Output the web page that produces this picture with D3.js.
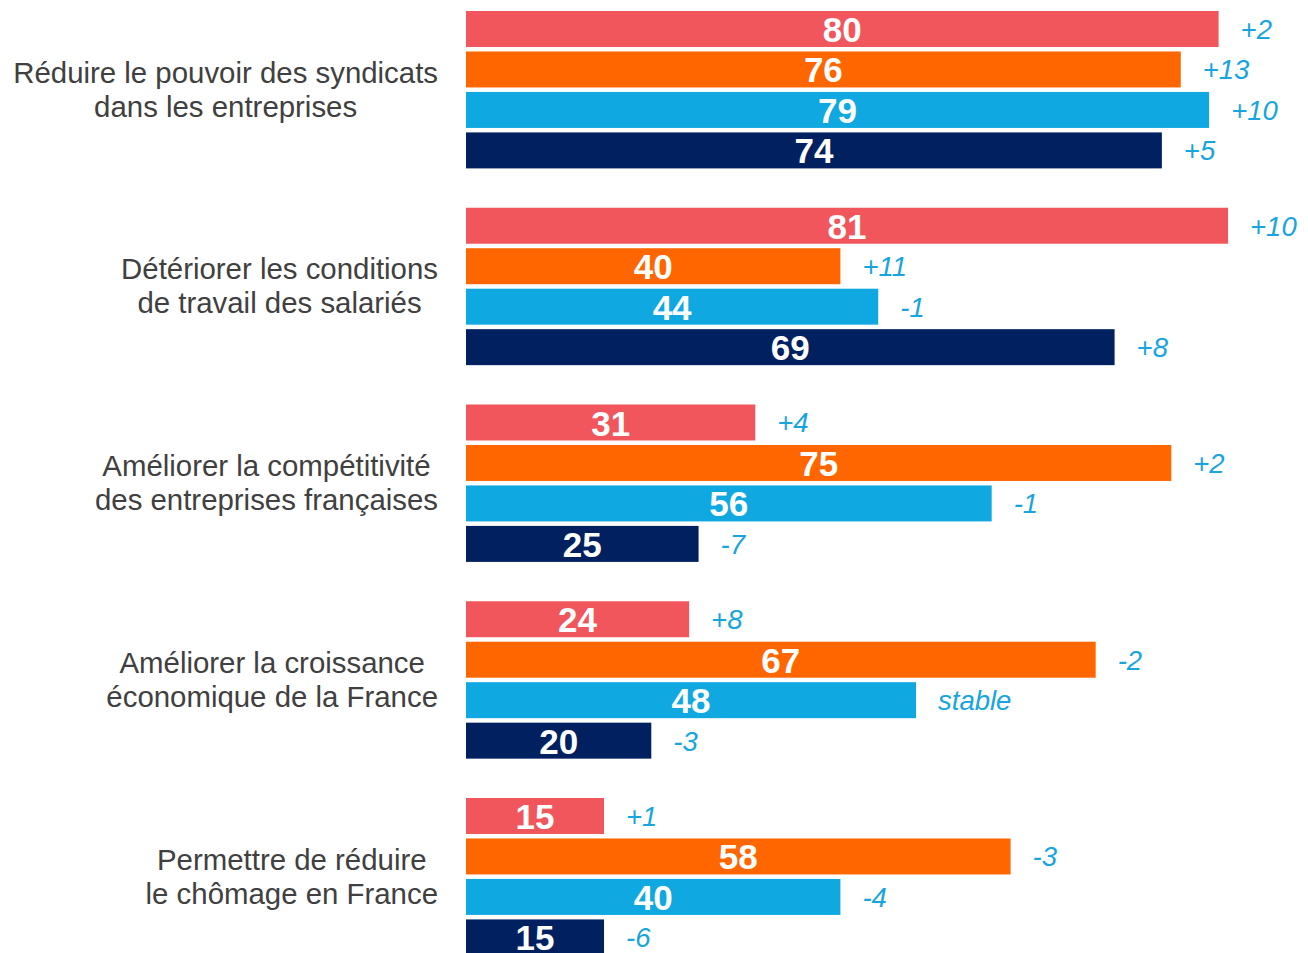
<!DOCTYPE html>
<html>
<head>
<meta charset="utf-8">
<script src="https://cdn.jsdelivr.net/npm/d3@7"></script>
<style>
  body { margin: 0; background: #fff; }
  svg { display: block; font-family: "Liberation Sans", Arial, sans-serif; }
</style>
</head>
<body>
<svg id="chart"></svg>
<script>
// categories (two lines each)
const categories = [
    ["Réduire le pouvoir des syndicats", "dans les entreprises"],
    ["Détériorer les conditions", "de travail des salariés"],
    ["Améliorer la compétitivité", "des entreprises françaises"],
    ["Améliorer la croissance", "économique de la France"],
    ["Permettre de réduire", "le chômage en France"]
];

const seriesKeys = ["serie1", "serie2", "serie3", "serie4"];
const seriesColors = ["#F0565B", "#FF6600", "#0FA8E0", "#002060"];

// values per series, same order as categories
const serie1Values = [80, 81, 31, 24, 15];
const serie2Values = [76, 40, 75, 67, 58];
const serie3Values = [79, 44, 56, 48, 40];
const serie4Values = [74, 69, 25, 20, 15];

// evolutions
const serie1Changes = ["+2", "+10", "+4", "+8", "+1"];
const serie2Changes = ["+13", "+11", "+2", "-2", "-3"];
const serie3Changes = ["+10", "-1", "-1", "stable", "-4"];
const serie4Changes = ["+5", "+8", "-7", "-3", "-6"];

class groupedBarChart {
    constructor(_config, _data) {
        this.config = {
            parentElement: _config.parentElement,
            containerWidth: _config.containerWidth || 1308,
            containerHeight: _config.containerHeight || 953,
            margin: {top: 11, left: 466},
            labelGap: 28
        }
        this.data = _data;
        this.initVis();
    }

    initVis() {
        let vis = this;

        vis.svg = d3.select(vis.config.parentElement)
            .attr('width', vis.config.containerWidth)
            .attr('height', vis.config.containerHeight);

        // value scale
        vis.xScale = d3.scaleLinear()
            .domain([0, 100])
            .range([462.2, 1407.7]);

        // one band per category, then one band per series inside
        vis.yScale = d3.scaleBand()
            .domain(d3.range(categories.length))
            .range([vis.config.margin.top, vis.config.margin.top + 944.4])
            .paddingInner(0.2)
            .paddingOuter(0);

        vis.ySub = d3.scaleBand()
            .domain(seriesKeys)
            .range([0, vis.yScale.bandwidth()])
            .paddingInner(0.111)
            .paddingOuter(0);

        vis.colorScale = d3.scaleOrdinal()
            .domain(seriesKeys)
            .range(seriesColors);

        vis.chart = vis.svg.append('g');
    }

    updateVis() {
        let vis = this;
        vis.x0 = vis.config.margin.left;
        vis.renderVis();
    }

    renderVis() {
        let vis = this;

        const groups = vis.chart.selectAll('.group')
            .data(vis.data)
            .join('g')
            .attr('class', 'group')
            .attr('transform', (d, i) => `translate(0,${vis.yScale(i)})`);

        const bars = groups.selectAll('.bar-g')
            .data(d => d.bars)
            .join('g')
            .attr('class', 'bar-g')
            .attr('transform', d => `translate(0,${vis.ySub(d.key)})`);

        bars.append('rect')
            .attr('x', vis.x0)
            .attr('y', 0)
            .attr('width', d => vis.xScale(d.value) - vis.x0)
            .attr('height', vis.ySub.bandwidth())
            .attr('fill', d => vis.colorScale(d.key));

        const bh = vis.ySub.bandwidth();

        // value inside bar
        bars.append('text')
            .attr('x', d => (vis.x0 + vis.xScale(d.value)) / 2)
            .attr('y', bh / 2 + 13)
            .attr('text-anchor', 'middle')
            .attr('fill', '#fff')
            .attr('font-weight', 'bold')
            .attr('font-size', 35)
            .text(d => d.value);

        // evolution next to bar
        bars.append('text')
            .attr('x', d => vis.xScale(d.value) + 22)
            .attr('y', bh / 2 + 10)
            .attr('fill', '#17A4DF')
            .attr('font-style', 'italic')
            .attr('font-size', 27.5)
            .text(d => d.change);

        // category labels, centred lines, right edge aligned before bars
        groups.each(function(d) {
            const g = d3.select(this).append('g');
            const t = g.append('text')
                .attr('text-anchor', 'middle')
                .attr('fill', '#404040')
                .attr('font-size', 29.4);
            t.selectAll('tspan')
                .data(d.label)
                .join('tspan')
                .attr('x', 0)
                .attr('y', (l, i) => i === 0 ? -7 : 27)
                .text(l => l);
            const box = g.node().getBBox();
            const right = vis.x0 - vis.config.labelGap;
            g.attr('transform', `translate(${right - (box.x + box.width)},${vis.yScale.bandwidth() / 2})`);
        });
    }
}

const allValues = [serie1Values, serie2Values, serie3Values, serie4Values];
const allChanges = [serie1Changes, serie2Changes, serie3Changes, serie4Changes];

const data = categories.map((label, i) => ({
    label: label,
    bars: seriesKeys.map((key, j) => ({
        key: key,
        value: allValues[j][i],
        change: allChanges[j][i]
    }))
}));

const chart = new groupedBarChart({parentElement: '#chart'}, data);
chart.updateVis();
</script>
</body>
</html>
